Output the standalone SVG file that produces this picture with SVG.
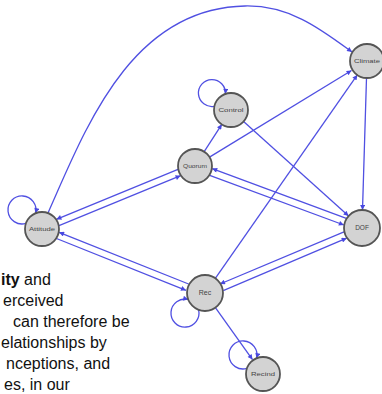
<svg xmlns="http://www.w3.org/2000/svg" width="382" height="394" viewBox="0 0 382 394">
  <style>
    .edge { fill: none; stroke: #5050e2; stroke-width: 1.3; marker-end: url(#ah); }
    .node circle { fill: #d3d3d3; stroke: #555; stroke-width: 1.8; }
    .node text { font-family: "Liberation Sans", Arial, sans-serif; font-size: 5px; fill: #444; text-anchor: middle; }
    .body { font-family: "Liberation Sans", Arial, sans-serif; font-size: 16px; fill: #111; }
  </style>
  <defs>
    <marker id="ah" viewBox="0 0 10 10" refX="10" refY="5" markerWidth="6" markerHeight="5" markerUnits="userSpaceOnUse" orient="auto">
      <path d="M0,0 L10,5 L0,10 z" fill="#4848e0"/>
    </marker>
  </defs>
  <rect width="382" height="394" fill="#fff"/>

  <!-- body text, cut at the left edge -->
  <text class="body" x="1" y="285"><tspan font-weight="bold">ity</tspan> and</text>
  <text class="body" x="3" y="306">erceived</text>
  <text class="body" x="13" y="327">can therefore be</text>
  <text class="body" x="1" y="348">elationships by</text>
  <text class="body" x="6" y="369">nceptions, and</text>
  <text class="body" x="4" y="390">es, in our</text>

  <g id="connectors">
    <!-- Attitude -> Climate arc over the top -->
    <path class="edge" d="M48 213 C85 130 130 8 245 6 C290 5 322 30 352 52"/>
    <!-- Attitude <-> Quorum -->
    <path class="edge" d="M178 169.3 L56.4 219.3"/>
    <path class="edge" d="M59 225.7 L180.6 175.7"/>
    <!-- Attitude <-> Rec -->
    <path class="edge" d="M188.6 284 L59.1 232.3"/>
    <path class="edge" d="M56.5 238.5 L186 290.3"/>
    <!-- Quorum <-> DOF -->
    <path class="edge" d="M346.3 218.4 L212.2 168.6"/>
    <path class="edge" d="M209.7 175.3 L343.9 225"/>
    <!-- Rec <-> DOF -->
    <path class="edge" d="M344 231.9 L220 284"/>
    <path class="edge" d="M223.2 290.7 L346.7 238.2"/>
    <!-- Quorum -> Control -->
    <path class="edge" d="M204.2 151.7 L221.8 124.3"/>
    <!-- Quorum -> Climate -->
    <path class="edge" d="M209.5 157.1 L351.5 70.5"/>
    <!-- Rec -> Climate -->
    <path class="edge" d="M215.3 278.3 L357.3 74.9"/>
    <!-- Control -> DOF -->
    <path class="edge" d="M243.6 121.4 L348.6 216"/>
    <!-- Climate -> DOF -->
    <path class="edge" d="M366.5 78 L362.5 210"/>
    <!-- Rec -> Recind -->
    <path class="edge" d="M215.4 307.6 L252.5 359.6"/>
    <!-- self loops -->
    <path class="edge" d="M25.9 223.4 A14 14 0 1 1 35.6 213.2"/>
    <path class="edge" d="M214.4 106.3 A13.5 13.5 0 1 1 225.4 93.9"/>
    <path class="edge" d="M198.6 309.8 A14 14 0 1 1 188.2 299.4"/>
    <path class="edge" d="M246.9 368.4 A14 14 0 1 1 256.6 358.2"/>
  </g>

  <g id="n-attitude" class="node"><circle cx="42" cy="229" r="17"/><text x="42" y="230.8" textLength="26" lengthAdjust="spacingAndGlyphs">Attitude</text></g>
  <g id="n-control" class="node"><circle cx="231" cy="110" r="17"/><text x="231" y="111.8" textLength="25" lengthAdjust="spacingAndGlyphs">Control</text></g>
  <g id="n-quorum" class="node"><circle cx="195" cy="166" r="17"/><text x="195" y="167.8" textLength="24" lengthAdjust="spacingAndGlyphs">Quorum</text></g>
  <g id="n-climate" class="node"><circle cx="367" cy="61" r="17"/><text x="367" y="62.8" textLength="26" lengthAdjust="spacingAndGlyphs">Climate</text></g>
  <g id="n-dof" class="node"><circle cx="362" cy="228" r="18"/><text x="362" y="230.2" style="font-size:6.5px">DOF</text></g>
  <g id="n-rec" class="node"><circle cx="205" cy="293" r="18"/><text x="205" y="295.2" style="font-size:7px">Rec</text></g>
  <g id="n-recind" class="node"><circle cx="263" cy="374" r="17"/><text x="263" y="375.8" textLength="24" lengthAdjust="spacingAndGlyphs">Recind</text></g>
</svg>
